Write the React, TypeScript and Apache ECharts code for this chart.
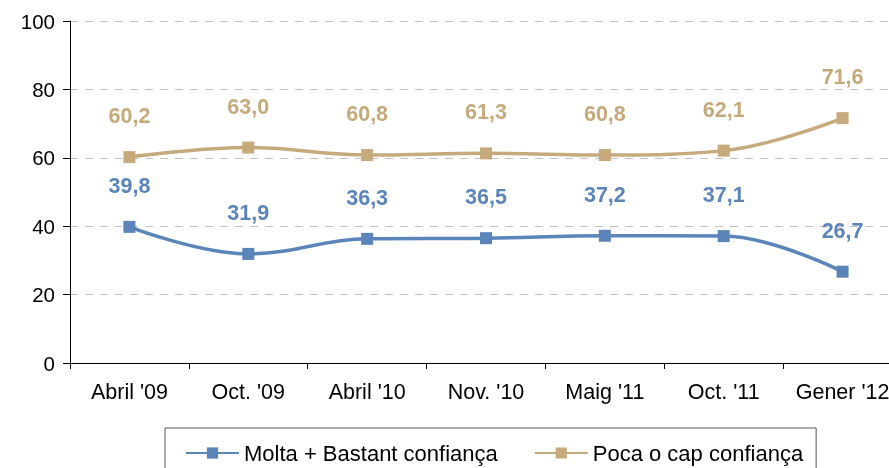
import React, { useEffect, useRef } from "react";
import * as echarts from "echarts";

const categories = ["Abril '09", "Oct. '09", "Abril '10", "Nov. '10", "Maig '11", "Oct. '11", "Gener '12"];
const moltaBastant = [39.8, 31.9, 36.3, 36.5, 37.2, 37.1, 26.7];
const pocaCap = [60.2, 63.0, 60.8, 61.3, 60.8, 62.1, 71.6];
const seriesNames = ["Molta + Bastant confiança", "Poca o cap confiança"];
const yTicks = { min: 0, max: 100, interval: 20 };

const BLUE = "#5b85ba";
const TAN = "#c6aa7c";
const FONT = "'Liberation Sans', Arial, sans-serif";

function fmt(v: number) {
  return v.toFixed(1).replace(".", ",");
}

export default function App() {
  const ref = useRef<HTMLDivElement>(null);
  useEffect(() => {
    if (!ref.current) return;
    const chart = echarts.init(ref.current, undefined, { renderer: "svg" });
    const mkSeries = (name: string, data: number[], color: string) => ({
      name,
      type: "line",
      data,
      smooth: 0.4,
      symbol: "rect",
      symbolSize: 12,
      lineStyle: { color, width: 3.5 },
      itemStyle: { color },
      label: {
        show: true,
        position: "top",
        distance: 24,
        color,
        fontFamily: FONT,
        fontSize: 21.5,
        fontWeight: "bold",
        formatter: (p: any) => fmt(p.value),
      },
    });
    chart.setOption({
      animation: false,
      textStyle: { fontFamily: FONT },
      grid: { left: 70, top: 21, width: 832, height: 342, containLabel: false },
      xAxis: {
        type: "category",
        data: categories,
        boundaryGap: true,
        axisLine: { lineStyle: { color: "#000", width: 1 } },
        axisTick: { show: true, length: 6, lineStyle: { color: "#000" }, alignWithLabel: false },
        axisLabel: { color: "#000", fontSize: 21.5, fontFamily: FONT, margin: 18, interval: 0 },
      },
      yAxis: {
        type: "value",
        min: yTicks.min,
        max: yTicks.max,
        interval: yTicks.interval,
        axisLine: { show: true, lineStyle: { color: "#000", width: 1 } },
        axisTick: { show: true, length: 7, lineStyle: { color: "#000" } },
        axisLabel: { color: "#000", fontSize: 20.5, fontFamily: FONT, margin: 15 },
        splitLine: { show: true, lineStyle: { color: "#c0c0c0", type: [8, 7], width: 1 } },
      },
      legend: {
        data: seriesNames,
        left: 165,
        top: 428,
        orient: "horizontal",
        padding: [14, 13, 14, 20],
        itemGap: 36,
        itemWidth: 53,
        itemHeight: 14,
        borderColor: "#555",
        borderWidth: 1,
        textStyle: { color: "#000", fontSize: 22, fontFamily: FONT },
      },
      series: [mkSeries(seriesNames[0], moltaBastant, BLUE), mkSeries(seriesNames[1], pocaCap, TAN)],
    });
    return () => chart.dispose();
  }, []);
  return (
    <div style={{ width: 889, height: 468, position: "fixed", left: 0, top: 0, overflow: "hidden" }}>
      <div ref={ref} style={{ width: 910, height: 468, position: "absolute", left: 0, top: 0 }} />
    </div>
  );
}
